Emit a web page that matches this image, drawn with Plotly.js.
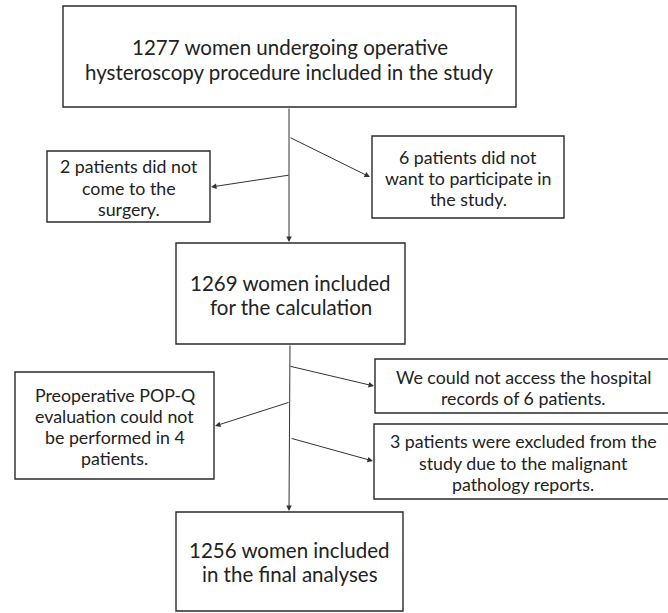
<!DOCTYPE html>
<html><head><meta charset="utf-8">
<script src="https://cdn.plot.ly/plotly-3.0.1.min.js"></script>
<style>html,body{margin:0;padding:0;background:#fff}</style>
</head><body><div id="chart" style="width:668px;height:613px"></div>
<script>
// Flowchart content (text lines of each box)
const boxLines = [
  ["1277 women undergoing operative", "hysteroscopy procedure included in the study"],
  ["2 patients did not", "come to the", "surgery."],
  ["6 patients did not", "want to participate in", "the study."],
  ["1269 women included", "for the calculation"],
  ["Preoperative POP-Q", "evaluation could not", "be performed in 4", "patients."],
  ["We could not access the hospital", "records of 6 patients."],
  ["3 patients were excluded from the", "study due to the malignant", "pathology reports."],
  ["1256 women included", "in the final analyses"]
];
const boxIsMain = [true, false, false, true, false, false, false, true];

// layout geometry (pixel-like coordinates)
const boxX0 = [63, 47, 372, 176, 15, 375, 374, 176];
const boxX1 = [516, 210, 564, 405, 214, 672, 672, 403];
const boxY0 = [6, 151, 136, 243, 372, 359, 424, 512];
const boxY1 = [107, 222, 218, 344, 479, 413, 499, 611];
const textY0 = [47, 166, 157, 283, 395, 377, 441, 550];
const lineGap = [24.5, 21.5, 21, 23.5, 21, 21, 21.5, 24];

// arrows: [fromX, fromY, toX, toY]
const arrowFromX = [289, 289, 290, 290, 289, 290, 290];
const arrowFromY = [107, 137, 175, 344, 366, 402, 438];
const arrowToX   = [289, 370, 211, 289, 374, 215, 373];
const arrowToY   = [242, 177, 187, 511, 386, 426, 461];

const shapes = [];
const annotations = [];
const ink = '#2a2a2a';
for (let i = 0; i < boxLines.length; i++) {
  shapes.push({type: 'rect', xref: 'x', yref: 'y', x0: boxX0[i], x1: boxX1[i], y0: boxY0[i], y1: boxY1[i],
    line: {color: ink, width: 1.4}, fillcolor: 'rgba(0,0,0,0)'});
  const cx = (boxX0[i] + Math.min(boxX1[i], 672)) / 2;
  boxLines[i].forEach((t, k) => {
    annotations.push({x: cx, y: textY0[i] + k * lineGap[i], xref: 'x', yref: 'y', text: t, showarrow: false,
      xanchor: 'center', yanchor: 'middle',
      font: {family: 'Lato, "Open Sans", sans-serif', size: boxIsMain[i] ? 20.5 : 17.8, color: '#222'}});
  });
}
for (let j = 0; j < arrowFromX.length; j++) {
  annotations.push({x: arrowToX[j], y: arrowToY[j], ax: arrowFromX[j], ay: arrowFromY[j],
    xref: 'x', yref: 'y', axref: 'x', ayref: 'y', text: '', showarrow: true,
    arrowhead: 2, arrowsize: 1.1, arrowwidth: 1, arrowcolor: '#333', standoff: 0, startstandoff: 0});
}

const layout = {
  width: 668, height: 613,
  margin: {l: 0, r: 0, t: 0, b: 0},
  paper_bgcolor: '#fff', plot_bgcolor: '#fff',
  xaxis: {range: [0, 668], visible: false, fixedrange: true},
  yaxis: {range: [613, 0], visible: false, fixedrange: true},
  shapes: shapes, annotations: annotations, showlegend: false
};
Plotly.newPlot('chart', [], layout, {displayModeBar: false, staticPlot: true});
</script></body></html>
